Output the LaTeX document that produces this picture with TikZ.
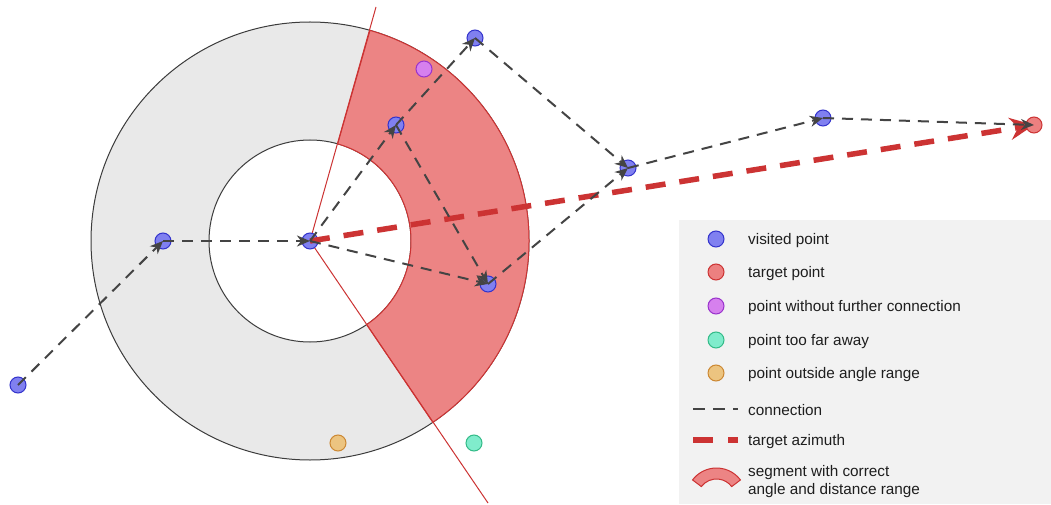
\documentclass[tikz,border=0pt]{standalone}
\usepackage{fontspec}
\setmainfont{Liberation Sans}
\usetikzlibrary{arrows.meta}
\definecolor{blueF}{RGB}{128,128,240}
\definecolor{blueD}{RGB}{51,51,204}
\definecolor{redF}{RGB}{236,128,128}
\definecolor{redD}{RGB}{204,51,51}
\definecolor{purF}{RGB}{214,128,238}
\definecolor{purD}{RGB}{153,51,204}
\definecolor{teaF}{RGB}{128,236,204}
\definecolor{teaD}{RGB}{51,187,136}
\definecolor{oraF}{RGB}{236,196,128}
\definecolor{oraD}{RGB}{204,136,51}
\definecolor{segF}{RGB}{236,132,132}
\definecolor{ringF}{RGB}{233,233,233}
\definecolor{ringD}{RGB}{60,60,60}
\definecolor{legF}{RGB}{242,242,242}
\definecolor{connC}{RGB}{68,68,68}
\definecolor{txtC}{RGB}{30,30,30}
\begin{document}
\begin{tikzpicture}[x=1pt,y=1pt,
  pt/.style={circle,inner sep=0pt,minimum size=16pt,line width=1pt},
  vpt/.style={pt,fill=blueF,draw=blueD},
  tpt/.style={pt,fill=redF,draw=redD},
  ppt/.style={pt,fill=purF,draw=purD},
  qpt/.style={pt,fill=teaF,draw=teaD},
  opt/.style={pt,fill=oraF,draw=oraD},
  conn/.style={draw=connC,line width=2pt,dash pattern=on 11pt off 8pt,
    -{Stealth[length=13pt,width=11pt,inset=4pt]}},
  connleg/.style={draw=connC,line width=2pt,dash pattern=on 12pt off 8pt},
  azim/.style={draw=redD,line width=5.5pt,dash pattern=on 20pt off 14pt},
  ring/.style={fill=ringF,draw=ringD,line width=1pt},
  seg/.style={fill=segF,draw=redD,line width=1pt},
  ray/.style={draw=redD,line width=1pt},
  lab/.style={anchor=west,inner sep=0pt,text=txtC,font=\fontsize{15.3}{18.5}\selectfont,align=left,yshift=-1.5pt}]
\useasboundingbox (0,0) rectangle (1051,504);
\fill[white] (0,0) rectangle (1051,504);
% legend background
\fill[legF] (679,0) rectangle (1051,284);
% ring
\coordinate (c0) at (310,263);
\draw[ring] (c0) circle[radius=219];
\draw[fill=white,draw=ringD,line width=1pt] (c0) circle[radius=101];
% segment
\draw[seg,shift={(310,263)}] (-55.9:219) arc[start angle=-55.9,end angle=74.1,radius=219]
  -- (74.1:101) arc[start angle=74.1,end angle=-55.9,radius=101] -- cycle;
% rays
\coordinate (r1) at (376,497);
\coordinate (r2) at (488,1);
\draw[ray] (c0) -- (r1);
\draw[ray] (c0) -- (r2);
% points
\node[vpt] (A) at (18,119) {};
\node[vpt] (B) at (163,263) {};
\node[vpt] (C) at (310,263) {};
\node[vpt] (D) at (396,379) {};
\node[vpt] (E) at (475,466) {};
\node[vpt] (F) at (628,336) {};
\node[vpt] (G) at (488,220) {};
\node[vpt] (H) at (823,386) {};
\node[ppt] (P) at (424,435) {};
\node[qpt] (Q) at (474,61) {};
\node[opt] (O) at (338,61) {};
% target azimuth
\coordinate (tc) at (1034,379);
\draw[azim,-{Stealth[length=24pt,width=22pt,inset=8pt]}] (C.center) -- (tc);
\node[tpt] (T) at (tc) {};
% connections
\draw[conn] (A.center) -- (B.center);
\draw[conn] (B.center) -- (C.center);
\draw[conn] (C.center) -- (D.center);
\draw[conn] (C.center) -- (G.center);
\draw[conn] (D.center) -- (E.center);
\draw[conn] (D.center) -- (G.center);
\draw[conn] (E.center) -- (F.center);
\draw[conn] (G.center) -- (F.center);
\draw[conn] (F.center) -- (H.center);
\draw[conn] (H.center) -- (T.center);
% legend
\node[vpt] (L1) at (716,265) {};
\node[lab] (L1t) at (748,265) {visited point};
\node[tpt] (L2) at (716,232) {};
\node[lab] (L2t) at (748,232) {target point};
\node[ppt] (L3) at (716,198) {};
\node[lab] (L3t) at (748,198) {point without further connection};
\node[qpt] (L4) at (716,164) {};
\node[lab] (L4t) at (748,164) {point too far away};
\node[opt] (L5) at (716,131) {};
\node[lab] (L5t) at (748,131) {point outside angle range};
\coordinate (L6a) at (693,95);
\coordinate (L6b) at (738,95);
\draw[connleg] (L6a) -- (L6b);
\node[lab] (L6t) at (748,95) {connection};
\coordinate (L7a) at (693,64);
\coordinate (L7b) at (738,64);
\draw[azim,dash pattern=on 20pt off 15pt] (L7a) -- (L7b);
\node[lab] (L7t) at (748,64) {target azimuth};
\draw[seg,shift={(716.5,6)}] (37:30) arc[start angle=37,end angle=143,radius=30]
  -- (143:19) arc[start angle=143,end angle=37,radius=19] -- cycle;
\node[lab] (L8t) at (748,24) {segment with correct\\angle and distance range};
\end{tikzpicture}
\end{document}
